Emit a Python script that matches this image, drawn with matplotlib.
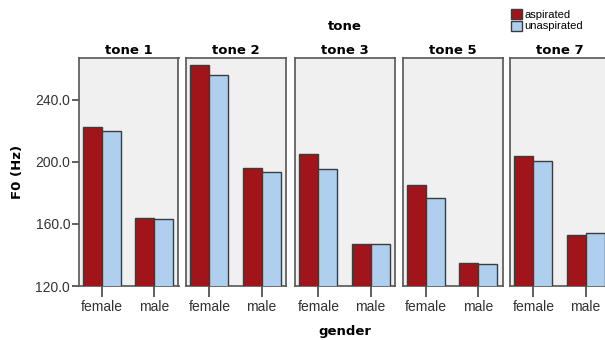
import matplotlib
matplotlib.use("Agg")
import matplotlib.pyplot as plt
import numpy as np
from matplotlib.patches import Patch

tones = ["tone 1", "tone 2", "tone 3", "tone 5", "tone 7"]
genders = ["female", "male"]
aspirated = [[222.7, 164.1], [262.3, 196.2], [205.2, 147.4], [185.0, 135.0], [203.6, 152.9]]
unaspirated = [[220.1, 163.0], [255.9, 193.4], [195.7, 147.4], [176.9, 134.3], [200.7, 154.2]]
yticks = [120, 160, 200, 240]

red = "#a11419"
blue = "#aed0ee"
edge = "#3c3c3c"
bg = "#f0f0f0"
tick_font = "Liberation Sans"

fig = plt.figure(figsize=(6.05, 3.4), dpi=100)
W, H = 605.0, 340.0
lefts = [78.5, 186, 295, 402.5, 510]
pw = 100.0
top, bottom = 58.0, 286.0

x = np.arange(len(genders))
bw = 0.365
for i, tone in enumerate(tones):
    ax = fig.add_axes([lefts[i] / W, 1 - bottom / H, pw / W, (bottom - top) / H])
    ax.set_facecolor(bg)
    ax.bar(x - bw / 2, aspirated[i], bw, bottom=0, color=red, edgecolor=edge, linewidth=1.0, zorder=3)
    ax.bar(x + bw / 2, unaspirated[i], bw, color=blue, edgecolor=edge, linewidth=1.0, zorder=3)
    ax.set_xlim(-0.45, 1.47)
    ax.set_ylim(120, 267)
    ax.set_xticks(x)
    ax.set_xticklabels(genders, fontsize=10, color="#333333", family=tick_font)
    ax.tick_params(axis="x", length=8, width=1.2, color="#444444", pad=2)
    for s in ax.spines.values():
        s.set_color("#555555")
        s.set_linewidth(1.2)
    ax.set_title(tone, fontsize=9.5, fontweight="bold", pad=3)
    if i == 0:
        ax.set_yticks(yticks)
        ax.set_yticklabels(["%.1f" % v for v in yticks], fontsize=10, color="#333333", family=tick_font)
        ax.tick_params(axis="y", length=5, width=1.2, color="#444444", pad=1)
    else:
        ax.set_yticks([])

fig.text(345 / W, 1 - 27 / H, "tone", ha="center", va="center", fontsize=9.5, fontweight="bold")
fig.text(345 / W, 1 - 332 / H, "gender", ha="center", va="center", fontsize=9.5, fontweight="bold")
fig.text(17 / W, 1 - 172 / H, "F0 (Hz)", ha="center", va="center", rotation=90, fontsize=9.5, fontweight="bold")

handles = [Patch(facecolor=red, edgecolor=edge, label="aspirated"),
           Patch(facecolor=blue, edgecolor=edge, label="unaspirated")]
fig.legend(handles=handles, loc="upper left", bbox_to_anchor=(503 / W, 1 - 1 / H), frameon=False,
           prop={"family": tick_font, "size": 8}, handlelength=1.0, handleheight=1.0,
           handletextpad=0.2, labelspacing=0.1, borderpad=0.2)

fig.savefig("out.png", dpi=100)
